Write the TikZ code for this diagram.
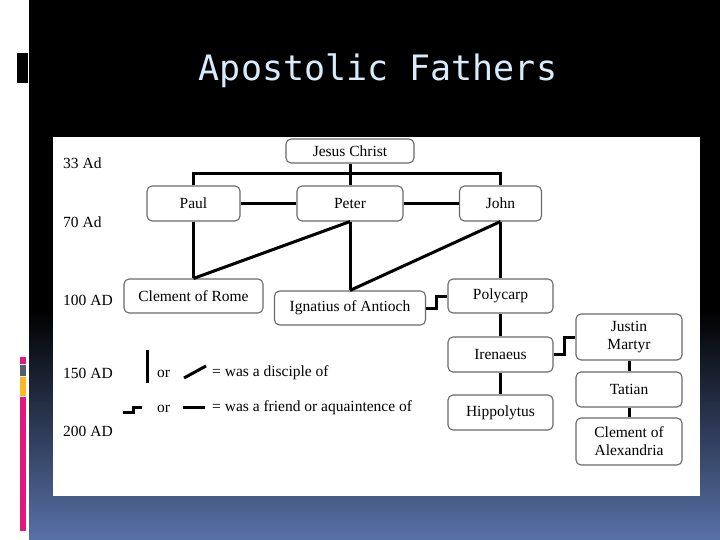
\documentclass[tikz,border=0pt]{standalone}
\usepackage{fontspec}
\setmainfont{Liberation Serif}
\newfontfamily\titlefont{DejaVu Sans Mono}
\usetikzlibrary{calc}
\definecolor{bgblue}{RGB}{88,113,167}
\definecolor{accmag}{RGB}{225,25,125}
\definecolor{accgray}{RGB}{85,95,110}
\definecolor{accorange}{RGB}{250,185,30}
\definecolor{titleblue}{RGB}{215,235,250}
\definecolor{boxgray}{RGB}{105,105,105}
\tikzset{
  person/.style={draw=boxgray, line width=1.1pt, rounded corners=5pt, fill=white,
    inner sep=0pt, align=center, font=\fontsize{15.5}{18}\selectfont},
  link/.style={line width=3pt, line cap=butt, line join=miter},
  yearlabel/.style={anchor=west, inner sep=0pt, font=\fontsize{15.5}{18}\selectfont},
  legendtext/.style={anchor=west, inner sep=0pt, font=\fontsize{15.5}{18}\selectfont}
}
\begin{document}
\begin{tikzpicture}[x=1pt, y=-1pt]
\useasboundingbox (0,0) rectangle (720,540);
% background
\fill[white] (0,0) rectangle (720,540);
\fill[black] (29,0) rectangle (720,311);
\shade[top color=black, bottom color=bgblue] (29,310) rectangle (720,540);
% left decorations
\fill[black] (17,53) rectangle (28,83);
\fill[accmag] (20,357) rectangle (26,364);
\fill[accgray] (20,365) rectangle (26,376);
\fill[accorange] (20,377) rectangle (26,396);
\fill[accmag] (20,397) rectangle (26,531);
% title
\node[text=titleblue, font=\titlefont\fontsize{35}{40}\selectfont, inner sep=0pt] (title) at (378,71) {Apostolic Fathers};
% white panel
\fill[white] (53,137) rectangle (700,496);
% year labels
\node[yearlabel] (y33) at (63,163) {33 Ad};
\node[yearlabel] (y70) at (63,222) {70 Ad};
\node[yearlabel] (y100) at (63,300) {100 AD};
\node[yearlabel] (y150) at (63,373) {150 AD};
\node[yearlabel] (y200) at (63,431) {200 AD};
% persons
\node[person, minimum width=128pt, minimum height=24pt] (jesus) at (350,151) {Jesus Christ};
\node[person, minimum width=93pt, minimum height=35pt] (paul) at (193.5,203.5) {Paul};
\node[person, minimum width=106pt, minimum height=35pt] (peter) at (350,203.5) {Peter};
\node[person, minimum width=82pt, minimum height=35pt] (john) at (500.5,203.5) {John};
\node[person, minimum width=139pt, minimum height=34pt] (clemrome) at (193.5,296) {Clement of Rome};
\node[person, minimum width=151pt, minimum height=34pt] (ignatius) at (350,308) {Ignatius of Antioch};
\node[person, minimum width=105pt, minimum height=34pt] (polycarp) at (500.5,296) {Polycarp};
\node[person, minimum width=105pt, minimum height=35pt] (irenaeus) at (500.5,354.5) {Irenaeus};
\node[person, minimum width=105pt, minimum height=35pt] (hippolytus) at (500.5,412.5) {Hippolytus};
\node[person, minimum width=106pt, minimum height=46pt] (justin) at (629,337) {Justin\\Martyr};
\node[person, minimum width=106pt, minimum height=35pt] (tatian) at (629,389.5) {Tatian};
\node[person, minimum width=106pt, minimum height=47pt] (clemalex) at (629,441.5) {Clement of\\Alexandria};
% connectors
\coordinate (bar) at (350,174);
\draw[link] (paul.north) -- (paul.north |- bar) -- (john.north |- bar) -- (john.north);
\draw[link] (jesus.south) -- (peter.north);
\draw[link] (paul.east) -- (peter.west);
\draw[link] (peter.east) -- (john.west);
\draw[link] (paul.south) -- (clemrome.north);
\draw[link] (peter.south) -- (clemrome.north);
\draw[link] (peter.south) -- (ignatius.north);
\draw[link] (john.south) -- (ignatius.north);
\draw[link] (john.south) -- (polycarp.north);
\draw[link] (ignatius.east) -| ($(ignatius.east)!0.5!(polycarp.west)$) |- (polycarp.west);
\draw[link] (polycarp.south) -- (irenaeus.north);
\draw[link] (irenaeus.south) -- (hippolytus.north);
\draw[link] (irenaeus.east) -| ($(irenaeus.east)!0.5!(justin.west)$) |- (justin.west);
\draw[link] (justin.south) -- (tatian.north);
\draw[link] (tatian.south) -- (clemalex.north);
% legend
\coordinate (la1) at (147,350); \coordinate (la2) at (147,383);
\draw[link] (la1) -- (la2);
\node[legendtext] (or1) at (157,374) {or};
\coordinate (lb1) at (184,378); \coordinate (lb2) at (206,366);
\draw[link] (lb1) -- (lb2);
\node[legendtext] (lt1) at (212,373) {= was a disciple of};
\coordinate (lc1) at (123,412); \coordinate (lc2) at (133,407); \coordinate (lc3) at (142,407);
\draw[link] (lc1) -| (lc2) -- (lc3);
\node[legendtext] (or2) at (157,409) {or};
\coordinate (ld1) at (183,407); \coordinate (ld2) at (205,407);
\draw[link] (ld1) -- (ld2);
\node[legendtext] (lt2) at (212,408) {= was a friend or aquaintence of};
\end{tikzpicture}
\end{document}
